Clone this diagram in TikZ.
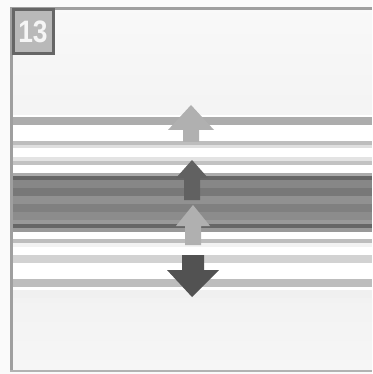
\documentclass[tikz,border=0pt]{standalone}
\usepackage{fontspec}
\setmainfont{Liberation Sans}
\begin{document}
\begin{tikzpicture}[x=1pt,y=-1pt,
  stripe/.style={fill=#1,draw=none},
  uparrow/.style={fill=#1,draw=none},
  framecol/.style={fill=gray!75,draw=none}]
\useasboundingbox (0,0) rectangle (372,374);
% background
\fill[white!96!gray] (0,0) rectangle (372,374);
\shade[top color=white!95!gray,bottom color=white!91!gray] (13,10) rectangle (372,115);
\shade[top color=white!90!gray,bottom color=white!93!gray] (13,298) rectangle (372,370);
% stripes
\fill[stripe=white] (13,115) rectangle (372,298);
\fill[stripe=gray!65] (13,117) rectangle (372,125);
\fill[stripe=gray!52] (13,141) rectangle (372,145);
\fill[stripe=gray!25] (13,145) rectangle (372,148);
\fill[stripe=gray!22] (13,157) rectangle (372,161);
\fill[stripe=gray!48] (13,161) rectangle (372,165);
\fill[stripe=gray!65] (13,173) rectangle (372,176);
\fill[stripe=black!60] (13,176) rectangle (372,180);
\fill[stripe=black!47] (13,180) rectangle (372,188);
\fill[stripe=black!53] (13,188) rectangle (372,196);
\fill[stripe=black!43] (13,196) rectangle (372,204);
\fill[stripe=black!50] (13,204) rectangle (372,212);
\fill[stripe=black!45] (13,212) rectangle (372,220);
\fill[stripe=black!40] (13,220) rectangle (372,224);
\fill[stripe=black!60] (13,224) rectangle (372,228);
\fill[stripe=black!40] (13,228) rectangle (372,232);
\fill[stripe=gray!52] (13,239) rectangle (372,243);
\fill[stripe=gray!10] (13,243) rectangle (372,247);
\fill[stripe=gray!35] (13,255) rectangle (372,263);
\fill[stripe=gray!52] (13,279) rectangle (372,287);
\fill[stripe=gray!12] (13,290) rectangle (372,298);
% arrows
\fill[uparrow=gray!62] (191,105) -- (214,130) -- (199,130) -- (199,142) -- (183,142) -- (183,130) -- (168,130) -- cycle;
\fill[uparrow=black!62] (192,160) -- (208,178) -- (200,178) -- (200,200) -- (184,200) -- (184,178) -- (176,178) -- cycle;
\fill[uparrow=gray!62] (193,205) -- (210,226) -- (201,226) -- (201,245) -- (185,245) -- (185,226) -- (176,226) -- cycle;
\fill[uparrow=black!68] (192,297) -- (219,270) -- (204,270) -- (204,255) -- (182,255) -- (182,270) -- (167,270) -- cycle;
% frame
\fill[framecol] (10,7) rectangle (372,10);
\fill[framecol] (10,7) rectangle (13,372);
\fill[gray!60] (10,370) rectangle (372,372);
% label
\node[fill=gray!55,draw=black!60,line width=3pt,minimum width=40pt,minimum height=44pt,inner sep=0pt,anchor=north west,text=white!92!gray,font=\fontsize{31}{31}\selectfont\bfseries] (lbl) at (11.5,8.5) {\scalebox{0.85}[1]{13}};
\end{tikzpicture}
\end{document}
